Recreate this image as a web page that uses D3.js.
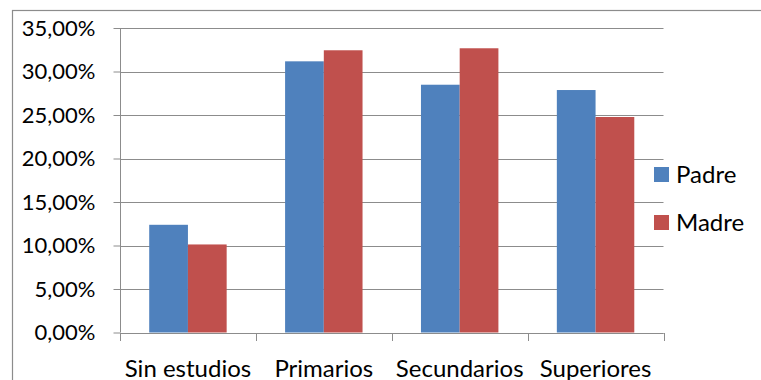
<!DOCTYPE html>
<html>
<head>
<meta charset="utf-8">
<script src="https://cdn.jsdelivr.net/npm/d3@7"></script>
<style>
  html, body { margin: 0; padding: 0; background: #fff; }
  svg { display: block; }
  text { font-family: Lato, "Open Sans", sans-serif; fill: #000; }
</style>
</head>
<body>
<svg id="chart" width="761" height="380"></svg>
<script>
// Nivel de estudios de los padres (porcentaje)
const categories = ["Sin estudios", "Primarios", "Secundarios", "Superiores"];
const series = ["Padre", "Madre"];
const padre = [12.38, 31.17, 28.48, 27.87];
const madre = [10.12, 32.44, 32.67, 24.77];
const yTicks = [0, 5, 10, 15, 20, 25, 30, 35];
const colors = ["#4F81BD", "#C0504D"];

const values = [padre, madre];
const svg = d3.select("#chart");
const plot = { left: 120, right: 663.5, top: 28, bottom: 332.5 };
const gridColor = "#8c8c8c";
const yFont = 22;
const labelFont = 24;

// Chart frame
svg.append("rect")
  .attr("x", 12.5).attr("y", 10.5)
  .attr("width", 800).attr("height", 400)
  .attr("fill", "none").attr("stroke", gridColor).attr("stroke-width", 1.2);

const y = d3.scaleLinear().domain([0, 35]).range([plot.bottom, plot.top]);
const x0 = d3.scaleBand().domain(categories).range([plot.left, plot.right]).paddingInner(0.43).paddingOuter(0.215);
const x1 = d3.scaleBand().domain(series).range([0, x0.bandwidth()]);
const xCat = d3.scaleBand().domain(categories).range([plot.left, plot.right]);

// Gridlines
svg.append("g")
  .selectAll("line")
  .data(yTicks)
  .join("line")
  .attr("x1", plot.left).attr("x2", plot.right)
  .attr("y1", d => Math.round(y(d)) + 0.5).attr("y2", d => Math.round(y(d)) + 0.5)
  .attr("stroke", gridColor).attr("stroke-width", 1);

// Y axis
const yAxis = svg.append("g")
  .attr("transform", `translate(${plot.left + 0.5},0)`)
  .call(d3.axisLeft(y).tickValues(yTicks).tickSize(7).tickPadding(18)
    .tickFormat(d => d3.format(".2f")(d).replace(".", ",") + "%"));
yAxis.select(".domain").attr("stroke", gridColor).attr("d", `M0,${plot.top}V${plot.bottom}`);
yAxis.selectAll(".tick line").attr("stroke", gridColor);
yAxis.selectAll(".tick text").attr("font-size", yFont).attr("font-family", "Lato, sans-serif").attr("fill", "#000");

// Bars
const groups = svg.append("g")
  .selectAll("g")
  .data(categories)
  .join("g")
  .attr("transform", d => `translate(${x0(d)},0)`);
groups.selectAll("rect")
  .data((c, i) => series.map((s, k) => ({ s, v: values[k][i], k })))
  .join("rect")
  .attr("x", d => x1(d.s))
  .attr("width", x1.bandwidth())
  .attr("y", d => y(d.v))
  .attr("height", d => y(0) - y(d.v))
  .attr("fill", d => colors[d.k]);

// X axis
const xAxis = svg.append("g")
  .attr("transform", `translate(0,${Math.round(plot.bottom) + 0.5})`)
  .call(d3.axisBottom(xCat).tickSize(0));
xAxis.select(".domain").attr("stroke", gridColor).attr("d", `M${plot.left},0H${plot.right}`);
xAxis.selectAll(".tick text")
  .attr("y", 43).attr("dy", null)
  .attr("font-size", labelFont).attr("font-family", "Lato, sans-serif").attr("fill", "#000");
svg.append("g")
  .selectAll("line")
  .data(d3.range(categories.length + 1))
  .join("line")
  .attr("x1", i => Math.round(plot.left + i * xCat.step()) + 0.5)
  .attr("x2", i => Math.round(plot.left + i * xCat.step()) + 0.5)
  .attr("y1", Math.round(plot.bottom)).attr("y2", Math.round(plot.bottom) + 8)
  .attr("stroke", gridColor);

// Legend
const legend = svg.append("g")
  .selectAll("g")
  .data(series)
  .join("g")
  .attr("transform", (d, i) => `translate(654,${167 + i * 48})`);
legend.append("rect").attr("width", 15).attr("height", 15).attr("fill", (d, i) => colors[i]);
legend.append("text").attr("x", 22).attr("y", 7.5).attr("dy", "0.35em")
  .attr("font-size", labelFont).text(d => d);
</script>
</body>
</html>
